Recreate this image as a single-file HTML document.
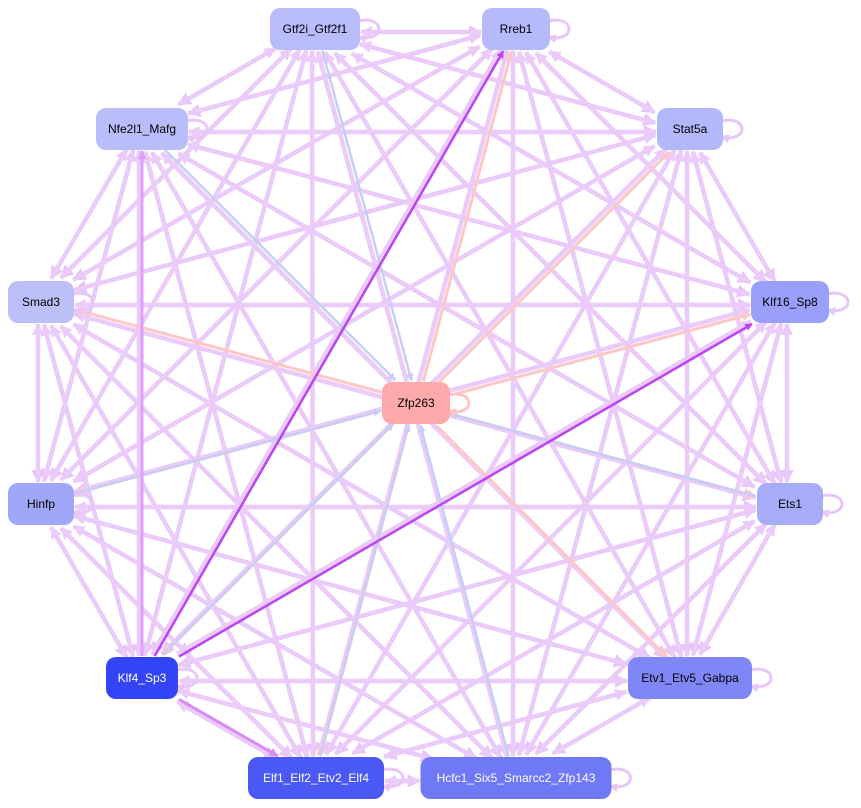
<!DOCTYPE html>
<html><head><meta charset="utf-8"><style>
html,body{margin:0;padding:0;background:#fff;width:861px;height:808px;overflow:hidden}
svg{display:block}
text{font-family:"Liberation Sans",sans-serif;font-size:12px}
</style></head><body>
<svg id="s" width="861" height="808" viewBox="0 0 861 808" xmlns="http://www.w3.org/2000/svg">
<defs id="defs"></defs>
<g id="edges"></g><g id="nodes"></g>
</svg>
<script>
var N={
G:[315,29,90,'#b8bcfb','Gtf2i_Gtf2f1','#000'],
R:[516,29,68,'#b6bafb','Rreb1','#000'],
N:[142,129,92,'#b9bdfa','Nfe2l1_Mafg','#000'],
S:[690,129,66,'#b3b7fb','Stat5a','#000'],
M:[41,302,66,'#bcc0fa','Smad3','#000'],
K:[790,302,78,'#9aa0f9','Klf16_Sp8','#000'],
Z:[416,403,68,'#ffaaaa','Zfp263','#000'],
H:[41,504,66,'#a0a6f8','Hinfp','#000'],
E:[790,504,66,'#a6acf8','Ets1','#000'],
F:[142,678,72,'#3344f5','Klf4_Sp3','#fff'],
V:[690,678,124,'#7f87f6','Etv1_Etv5_Gabpa','#000'],
L:[316,778,136,'#4a58f5','Elf1_Elf2_Etv2_Elf4','#fff'],
C:[516,778,191,'#6f78f5','Hcfc1_Six5_Smarcc2_Zfp143','#fff']};
var outer=['G','R','N','S','M','K','H','E','F','V','L','C'];
var ns='http://www.w3.org/2000/svg';
var eg=document.getElementById('edges'),ng=document.getElementById('nodes'),df=document.getElementById('defs');
var mk={},mc=0;
function marker(c){if(mk[c])return mk[c];var id='m'+(mc++);var m=document.createElementNS(ns,'marker');
m.setAttribute('id',id);m.setAttribute('viewBox','0 0 10 10');m.setAttribute('refX','9');m.setAttribute('refY','5');
m.setAttribute('markerWidth','3');m.setAttribute('markerHeight','3');m.setAttribute('orient','auto');m.setAttribute('markerUnits','strokeWidth');
var p=document.createElementNS(ns,'path');p.setAttribute('d','M0,0L10,5L0,10z');p.setAttribute('fill',c);m.appendChild(p);df.appendChild(m);mk[c]=id;return id;}
function clip(p,dx,dy){var hw=p[2]/2+1,hh=22;var t=Math.min(Math.abs(dx)>0?hw/Math.abs(dx):1e9,Math.abs(dy)>0?hh/Math.abs(dy):1e9);return t;}
function line(a,b,c,w,off){var p=N[a],q=N[b];var dx=q[0]-p[0],dy=q[1]-p[1],l=Math.hypot(dx,dy);var ox=-dy/l*off,oy=dx/l*off;
var t1=clip(p,dx,dy),t2=clip(q,dx,dy);
var e=document.createElementNS(ns,'line');
e.setAttribute('x1',p[0]+ox+dx*t1);e.setAttribute('y1',p[1]+oy+dy*t1);e.setAttribute('x2',q[0]+ox-dx*t2);e.setAttribute('y2',q[1]+oy-dy*t2);
e.setAttribute('stroke',c);e.setAttribute('stroke-width',w);e.setAttribute('marker-end','url(#'+marker(c)+')');eg.appendChild(e);}
for(var i=0;i<outer.length;i++)for(var j=i+1;j<outer.length;j++){line(outer[i],outer[j],'#e8c6f9',4.5,3);line(outer[j],outer[i],'#ebcbfa',4,-3);}
['M','K','S','R','E','V','F','L','H'].forEach(function(k){line('Z',k,'#ffc6c6',3,1.5)});
['G','N','H','F','L','E','C'].forEach(function(k){line(k,'Z','#c6cef8',2.5,-1.5)});
line('F','R','#bb44f5',2.5,0);line('F','K','#bb44f5',2.5,0);line('F','L','#d88af5',3,0);line('F','N','#dca0f8',3,0);
outer.concat(['Z']).forEach(function(k){var p=N[k];var x=p[0]+p[2]/2;var e=document.createElementNS(ns,'path');
e.setAttribute('d','M'+(x-2)+','+(p[1]-8)+' C'+(x+26)+','+(p[1]-14)+' '+(x+26)+','+(p[1]+14)+' '+(x-2)+','+(p[1]+8));
e.setAttribute('fill','none');var c=k=='Z'?'#ffc6c6':'#e8c6f9';e.setAttribute('stroke',c);e.setAttribute('stroke-width',3);e.setAttribute('marker-end','url(#'+marker(c)+')');eg.appendChild(e);});
for(var k in N){var p=N[k];var r=document.createElementNS(ns,'rect');r.setAttribute('x',p[0]-p[2]/2);r.setAttribute('y',p[1]-21);r.setAttribute('width',p[2]);r.setAttribute('height',42);r.setAttribute('rx',10);r.setAttribute('fill',p[3]);ng.appendChild(r);
var t=document.createElementNS(ns,'text');t.setAttribute('x',p[0]);t.setAttribute('y',p[1]+4);t.setAttribute('text-anchor','middle');t.setAttribute('fill',p[5]);t.textContent=p[4];ng.appendChild(t);}
</script>
</body></html>
